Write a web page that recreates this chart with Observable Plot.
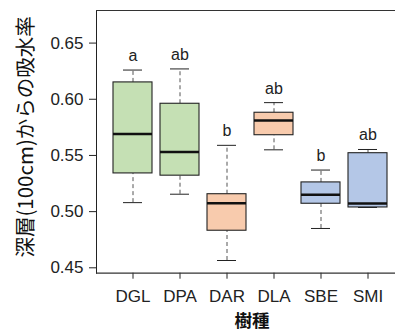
<!DOCTYPE html>
<html>
<head>
<meta charset="utf-8">
<script src="https://cdn.jsdelivr.net/npm/d3@7"></script>
<script src="https://cdn.jsdelivr.net/npm/@observablehq/plot@0.6"></script>
<style>
  html, body { margin: 0; padding: 0; background: #fff; overflow: hidden; }
</style>
</head>
<body>
<div id="chart"></div>
<script>
const categories = ["DGL", "DPA", "DAR", "DLA", "SBE", "SMI"];
const whiskerLow  = [0.508, 0.5155, 0.4565, 0.555, 0.485, 0.5037];
const quartile1   = [0.534, 0.532, 0.483, 0.568, 0.507, 0.5037];
const medians     = [0.569, 0.553, 0.5075, 0.581, 0.515, 0.5073];
const quartile3   = [0.615, 0.596, 0.5155, 0.588, 0.526, 0.552];
const whiskerHigh = [0.626, 0.627, 0.559, 0.597, 0.537, 0.5553];
const letters     = ["a", "ab", "b", "ab", "b", "ab"];
const boxColors   = ["#c5e0b4", "#c5e0b4", "#f8cbad", "#f8cbad", "#b4c7e7", "#b4c7e7"];
const yTicks      = [0.45, 0.50, 0.55, 0.60, 0.65];
const yTitle      = "深層(100cm)からの吸水率";
const xTitle      = "樹種";

const data = categories.map((c, i) => ({
  cat: c, lo: whiskerLow[i], q1: quartile1[i], med: medians[i],
  q3: quartile3[i], hi: whiskerHigh[i], letter: letters[i], color: boxColors[i]
}));

const yDomain = [0.4452, 0.679];
const latin = "'Liberation Sans', Arial, 'Noto Sans CJK JP', sans-serif";
const cjk = "'Noto Sans CJK JP', sans-serif";

const chart = Plot.plot({
  width: 395,
  height: 332,
  marginLeft: 96,
  marginRight: 0,
  marginTop: 10,
  marginBottom: 59.3,
  style: { fontFamily: latin, fontSize: "17px", color: "#222", background: "#fff" },
  x: { domain: categories, range: [96, 403.5], paddingInner: 0.18, paddingOuter: 0.334,
       tickSize: 6, tickPadding: 11, label: null },
  y: { domain: yDomain, ticks: yTicks, tickFormat: d => d.toFixed(2),
       tickSize: 7, tickPadding: 6, label: null, line: true },
  color: { type: "identity" },
  marks: [
    Plot.ruleY([yDomain[1], yDomain[0]], { stroke: "#333", strokeWidth: 1.2 }),
    Plot.ruleX(data, { x: "cat", y1: "q3", y2: "hi", stroke: "#555", strokeDasharray: "4,3" }),
    Plot.ruleX(data, { x: "cat", y1: "lo", y2: "q1", stroke: "#555", strokeDasharray: "4,3" }),
    Plot.tickY(data, { x: "cat", y: "hi", stroke: "#222", insetLeft: 10, insetRight: 10 }),
    Plot.tickY(data, { x: "cat", y: "lo", stroke: "#222", insetLeft: 10, insetRight: 10 }),
    Plot.barY(data, { x: "cat", y1: "q1", y2: "q3", fill: "color", stroke: "#222", strokeWidth: 1.1 }),
    Plot.tickY(data, { x: "cat", y: "med", stroke: "#111", strokeWidth: 2.5 }),
    Plot.text(data, { x: "cat", y: "hi", text: "letter", dy: -9, lineAnchor: "bottom",
                      fontSize: 16, fill: "#222" }),
    Plot.text([yTitle], { text: d => d, frameAnchor: "left", textAnchor: "middle", lineAnchor: "middle",
                          dx: -70, dy: -5, rotate: -90,
                          fontSize: 20.5, fontFamily: cjk, fill: "#111" }),
    Plot.text([xTitle], { text: d => d, frameAnchor: "bottom", textAnchor: "middle", lineAnchor: "middle",
                          dx: 6, dy: 48.5,
                          fontSize: 17.5, fontWeight: "bold", fontFamily: cjk, fill: "#111" })
  ]
});

document.getElementById("chart").appendChild(chart);
</script>
</body>
</html>
